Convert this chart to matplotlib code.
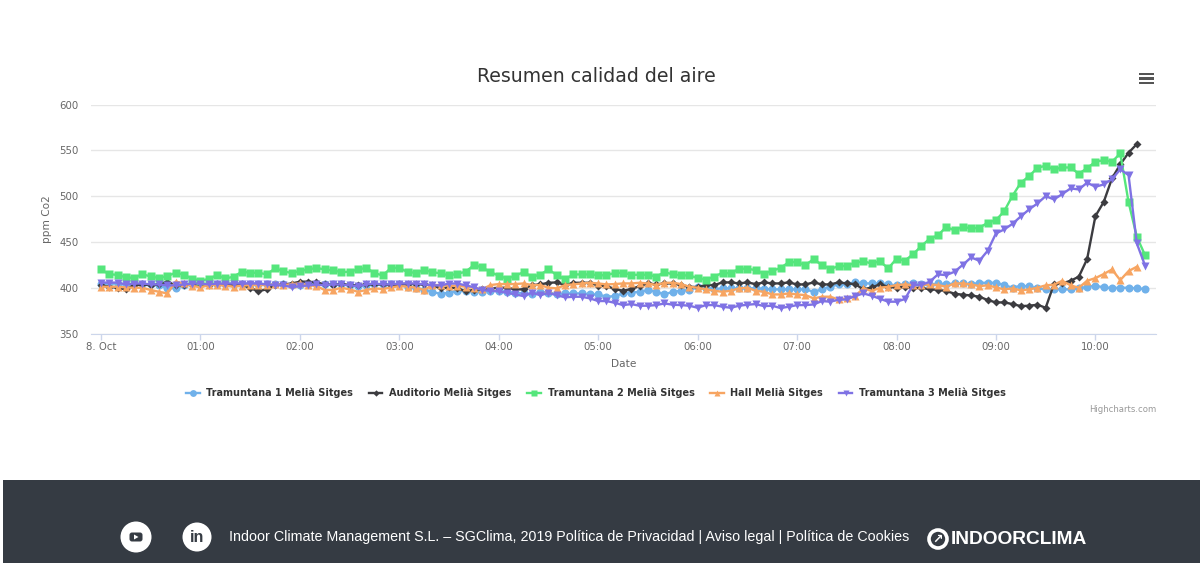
import numpy as np
import matplotlib
matplotlib.use("Agg")
import matplotlib.pyplot as plt
from matplotlib.patches import Rectangle, Circle, FancyBboxPatch, Polygon

title = "Resumen calidad del aire"
names = ["Tramuntana 1 Melià Sitges", "Auditorio Melià Sitges", "Tramuntana 2 Melià Sitges",
         "Hall Melià Sitges", "Tramuntana 3 Melià Sitges"]
x_labels = ["8. Oct", "01:00", "02:00", "03:00", "04:00", "05:00", "06:00", "07:00", "08:00", "09:00", "10:00"]
y_ticks = [350, 400, 450, 500, 550, 600]

tram1 = [405,405,405,404,404,404,404,403,400,400,403,405,405,404,404,404,405,405,405,405,404,404,404,403,403,404,404,404,404,404,403,402,403,404,404,404,404,
         401.5,399.7,397.9,396,393.5,395,397,396.8,396,
         396,397,397,396,395,394.2,393.1,396,395,393.5,394.2,394.2,394.2,393.1,393.1,390.6,391.3,394.2,395,396,397.9,396,393.1,396,397.1,397.9,400.7,400.4,399,399.7,399.7,399.7,400,399.7,399.3,398.6,398.6,398.6,398.6,398.6,396,398.6,401.5,404,404,406.2,
         405.1,405.1,405.1,404,403,404,405.1,404,403,405.1,404,405.1,405.1,404,405.8,405.8,405.8,403.3,400.4,402.6,401.9,399.7,398.6,399,398.6,398.6,399.7,401.5,402.6,400.8,400,400.4,400.4,399.7,399]
auditorio = [403,401.5,400.4,398.6,403,404,403,404,407,403,403,404,404,403,404,404,404,404,
             399.7,396.8,398.6,403,404,405,407,407,406.2,404,403.3,405,403,403,404,404,404,403,404,405,404,404,403,
             399.7,400.8,399.7,396.8,397.9,
             399,399.7,400.4,400.4,398.6,398.6,403.3,404,405.8,406.2,403.3,405.8,405.8,405.8,402.6,402.2,399,397.1,399,402.2,405.1,404,405.1,405.1,403.3,401.5,401.1,403.3,403.3,406.2,406.2,405.1,406.2,404.4,406.2,405.1,405.1,406.2,404,404,406.2,404,404,406.2,405.1,404.4,
             398.6,400.8,404,401.5,400.4,401.5,400,400.4,398.6,398.2,396.8,393.9,392.8,392,390.6,387,384.4,384.4,382.6,380.4,380.8,381.9,378.6,404.4,405.1,408,412.4,431.6,478.4,493.7,519.5,534.7,547.4,556.9]
tram2 = [420.3,415,414.5,411.6,411.2,414.9,412.8,410.9,413.1,416.7,414.5,410.2,408,410,414,410.5,412.4,417.8,416.7,416.7,415,421.4,418.5,416.3,418.5,420.3,422,420.3,419.3,417.4,417.8,420.3,422,416.3,413.8,422,422,417.4,416.7,419.6,417.4,416,413.8,415.6,417.8,425,
         422.5,417.4,413.5,410.2,413.5,417.4,412.4,414.5,420.4,414.2,409.5,414.9,414.9,414.9,414.2,413.8,416.7,416.7,414.5,414.5,414.5,412.4,417.4,414.9,413.8,413.8,410.9,409.1,412.4,416.7,416,421.1,421.1,419.6,415.6,418.9,421.8,428.3,428.3,425,431.6,425,421.1,423.6,424.3,427.6,
         429.1,426.9,429.1,421.5,432,429.8,437,445.8,453.8,457.4,466.8,462.8,466.8,465,465.7,471.2,474,483.9,500.6,514.8,522,531,533.3,529.3,531.4,531.4,524.5,530.7,537.6,539.4,537.6,546.7,493.7,455.9,435.6]
hall = [401.5,401.5,401.5,400.7,400.4,400.4,397.9,396,394.2,407,405.1,402.6,400.7,403.3,403.3,402.6,401.5,402.6,403.3,403.3,403.3,404,403.3,404.4,405.1,403.3,402.2,397.9,397.9,400.4,398.6,396,397.9,399.7,399,400.7,402.2,401.5,400.4,397.9,403.3,403.3,402.6,402.6,401.5,400.4,
        398.6,403.3,404.4,404.4,404.4,405.1,403.3,403.3,400.4,399.7,403.3,404,405.1,405.8,405.1,404,404.4,405.1,405.1,405.8,405.1,403.3,405.8,405.8,404.4,401.5,400.4,398.6,397.1,396,397.1,399.7,400.4,397.1,396,393.1,393.1,394.2,393.1,392.4,388.8,390.6,390.6,387.7,388.8,391.3,
        399.7,396.8,400.4,401.5,403.3,404,403.3,403.3,404,403.3,401.5,405.1,405.1,404,402.2,403,400.8,398.6,399.7,397.5,398.6,400.4,403,403.7,408,403,400.4,408,410.9,415.3,420.3,408.7,418.5,423.3]
tram3 = [406,406,406,404,405,405,404,404,403,403,404,405,405,404,405,405,405,405,405,405,404,403,403,401,402,403,404,403,404,404,403,402,404,405,404,404,405,405,405,404,403,403,405,405,403,401,
         397.9,397.1,396.4,394.9,393.1,391.3,394.9,392.4,394.6,392.4,389.9,390.6,390.6,388.8,385.9,385.9,384,381.5,382.6,380.8,380.8,381.5,383.3,381.9,381.5,380.8,378.6,381.5,381.5,379.7,378.6,380.8,381.9,382.6,380.4,380.8,378.3,379.7,381.5,381.5,382.2,385.9,385.2,387.3,387.7,391.3,
         394.2,391.7,388.4,385.2,385.2,388,403.3,403.3,407,414.9,414.2,417.8,425.4,433.4,429.8,440.7,459.6,463.9,470.1,478.1,485.7,492.2,500.2,496.6,502.4,508.6,507.5,514.8,510.4,512.9,518.7,529.3,523.1,448.7,424.4]

series = [tram1, auditorio, tram2, hall, tram3]
colors = ["#70b1ea", "#3c3c40", "#55e67c", "#f7a562", "#7f72e4"]
markers = ["o", "D", "s", "^", "v"]
sizes = [5.8, 3.8, 5.8, 5.4, 5.4]

W, H = 1200, 563
fig = plt.figure(figsize=(W / 100, H / 100), dpi=100, facecolor="white")

# page furniture in pixel coordinates
bg = fig.add_axes([0, 0, 1, 1], zorder=0)
bg.set_xlim(0, W)
bg.set_ylim(H, 0)
bg.axis("off")
bg.add_patch(Rectangle((3, 480), W - 3, H - 480, fc="#353b43", ec="none"))
bg.add_patch(Circle((136, 537), 15.5, fc="white", ec="none"))
bg.add_patch(FancyBboxPatch((129.5, 532.5), 13, 9, boxstyle="round,pad=0,rounding_size=2.5", fc="#353b43", ec="none"))
bg.add_patch(Polygon([(134, 534.5), (134, 539.5), (138.5, 537)], fc="white", ec="none"))
bg.add_patch(Circle((197, 537), 14.5, fc="white", ec="none"))
bg.text(197, 537, "in", color="#353b43", fontsize=11.5, fontweight="bold", family="Liberation Sans", ha="center", va="center")
bg.text(229, 537, "Indoor Climate Management S.L. – SGClima, 2019 Política de Privacidad | Aviso legal | Política de Cookies",
        color="white", fontsize=10.25, family="Liberation Sans", ha="left", va="center")
bg.add_patch(Circle((938, 539), 9, fc="none", ec="white", lw=2.6))
bg.text(938, 539, "↗", color="white", fontsize=9, fontweight="bold", ha="center", va="center")
bg.text(951, 539, "INDOORCLIMA", color="white", fontsize=13.8, fontweight="bold", family="Liberation Sans", ha="left", va="center")

# hamburger menu
for yy in (74, 78.5, 83):
    bg.add_patch(Rectangle((1138.5, yy - 1.2), 15, 2.6, fc="#555555", ec="none"))

# chart
ax = fig.add_axes([91 / W, 1 - 334 / H, (1156 - 91) / W, (334 - 104.5) / H], zorder=1)
ax.patch.set_alpha(0)
for vals, name, c, m, s in zip(series, names, colors, markers, sizes):
    xs = np.arange(len(vals)) / 12
    ax.plot(xs, vals, color=c, lw=1.7, marker=m, ms=s, mec="none", label=name, clip_on=False)

ax.set_xlim((91 - 101) / 99.44, (1156 - 101) / 99.44)
ax.set_ylim(350, 600)
ax.set_xticks(np.arange(len(x_labels)), x_labels)
ax.set_yticks(y_ticks)
ax.grid(axis="y", color="#e6e6e6", lw=1)
ax.set_axisbelow(True)
for sp in ("top", "left", "right"):
    ax.spines[sp].set_visible(False)
ax.spines["bottom"].set_color("#ccd6eb")
ax.tick_params(axis="x", color="#ccd6eb", length=4.3, width=1, labelsize=7.3, labelcolor="#666666", pad=1.4)
ax.tick_params(axis="y", length=0, labelsize=7.3, labelcolor="#666666", pad=8.7)
ax.set_xlabel("Date", fontsize=7.6, color="#666666", labelpad=5)
ax.set_ylabel("ppm Co2", fontsize=7.6, color="#666666", labelpad=5.7)
fig.text(596 / W, 1 - 77 / H, title, fontsize=13.6, color="#333333", ha="center", va="center")
leg = fig.legend(loc="center", bbox_to_anchor=(596 / W, 1 - 393 / H), ncol=5, frameon=False,
                 prop={"size": 7.0, "weight": "bold"}, labelcolor="#333333", handlelength=1.4,
                 handletextpad=0.7, columnspacing=1.6, markerscale=0.85)
fig.text(1156 / W, 1 - 409.5 / H, "Highcharts.com", fontsize=6.1, color="#999999", ha="right", va="center")

fig.savefig("out.png", dpi=100, facecolor="white")
